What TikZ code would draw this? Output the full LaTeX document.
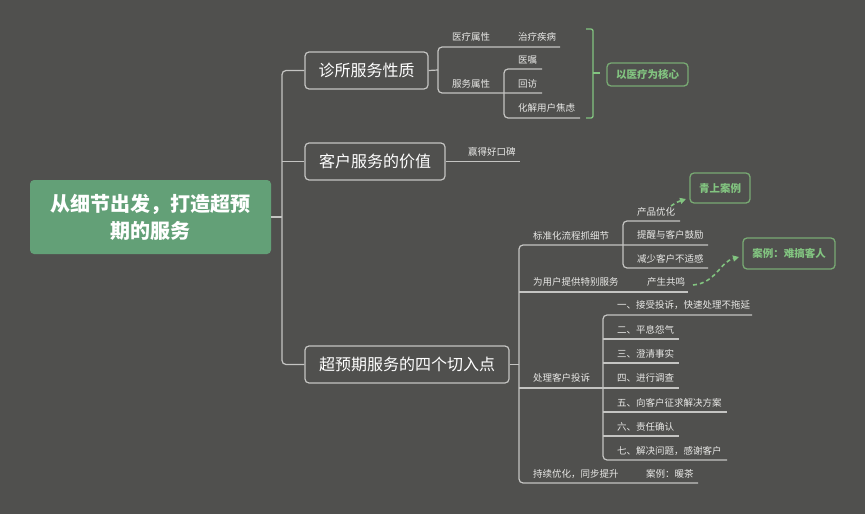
\documentclass[tikz,border=0pt]{standalone}
\usepackage{fontspec}
\setmainfont{Noto Sans CJK SC}
\usetikzlibrary{arrows.meta}
\definecolor{bgc}{RGB}{80,80,78}
\definecolor{linec}{RGB}{196,196,194}
\definecolor{txtc}{RGB}{232,232,230}
\definecolor{rootc}{RGB}{99,160,119}
\definecolor{grn}{RGB}{130,196,128}
\definecolor{grnbox}{RGB}{120,170,115}
\begin{document}
\begin{tikzpicture}[x=1pt,y=-1pt,
  br/.style={draw=linec,line width=1.2pt,rounded corners=4pt},
  mainbox/.style={draw=linec,line width=1.2pt,rounded corners=4pt,text=white,
    font=\fontsize{16}{20}\selectfont,inner sep=0pt},
  rootbox/.style={fill=rootc,rounded corners=4pt,text=white,align=center,
    font=\fontsize{20}{27}\selectfont\bfseries,inner sep=0pt},
  lbl/.style={anchor=west,inner sep=0pt,text=txtc,font=\fontsize{9.5}{11}\selectfont},
  callout/.style={draw=grnbox,line width=1.3pt,rounded corners=4pt,text=grn,
    font=\fontsize{10.5}{12}\selectfont\bfseries,inner sep=0pt},
  darr/.style={draw=grn,line width=1.6pt,dash pattern=on 4pt off 3pt,
    -{Triangle[length=6pt,width=6pt]}},
  brk/.style={draw=grn,line width=1.3pt}
]
\fill[bgc] (0,0) rectangle (865,514);
\useasboundingbox (0,0) rectangle (865,514);

% main nodes
\node[rootbox,minimum width=241pt,minimum height=74pt] (root) at (150.5,217) {从细节出发，打造超预\\期的服务};
\node[mainbox,minimum width=123pt,minimum height=37pt] (n1) at (366.5,70.5) {诊所服务性质};
\node[mainbox,minimum width=140pt,minimum height=37pt] (n2) at (375,161.5) {客户服务的价值};
\node[mainbox,minimum width=204pt,minimum height=37pt] (n3) at (407,364.5) {超预期服务的四个切入点};

% callouts
\node[callout,minimum width=81pt,minimum height=23pt] (k0) at (647.5,74.5) {以医疗为核心};
\node[callout,minimum width=60pt,minimum height=30pt] (k1) at (720,188) {青上案例};
\node[callout,minimum width=92pt,minimum height=31pt] (k2) at (789,253.5) {案例：难搞客人};

% labels
\node[lbl] (t11) at (452,37) {医疗属性};
\node[lbl] (t111) at (518,37) {治疗疾病};
\node[lbl] (t12) at (452,84) {服务属性};
\node[lbl] (t121) at (518,60) {医嘱};
\node[lbl] (t122) at (518,84) {回访};
\node[lbl] (t123) at (518,108) {化解用户焦虑};
\node[lbl] (t21) at (468,152) {赢得好口碑};
\node[lbl] (t31) at (533,236) {标准化流程抓细节};
\node[lbl] (t311) at (637,212) {产品优化};
\node[lbl] (t312) at (637,235) {提醒与客户鼓励};
\node[lbl] (t313) at (637,259) {减少客户不适感};
\node[lbl] (t32) at (533,282) {为用户提供特别服务};
\node[lbl] (t321) at (647,282) {产生共鸣};
\node[lbl] (t33) at (533,378) {处理客户投诉};
\node[lbl] (t331) at (617,305) {一、接受投诉，快速处理不拖延};
\node[lbl] (t332) at (617,330) {二、平息怨气};
\node[lbl] (t333) at (617,354) {三、澄清事实};
\node[lbl] (t334) at (617,378) {四、进行调查};
\node[lbl] (t335) at (617,403) {五、向客户征求解决方案};
\node[lbl] (t336) at (617,427) {六、责任确认};
\node[lbl] (t337) at (617,451) {七、解决问题，感谢客户};
\node[lbl] (t34) at (533,474) {持续优化，同步提升};
\node[lbl] (t341) at (646,474) {案例：暖茶};

% junction coordinates
\coordinate (j0) at (282,217);
\coordinate (j1) at (438,70);
\coordinate (e11) at (560,47);
\coordinate (e12) at (542,93);
\coordinate (j12) at (504,93);
\coordinate (e121) at (542,69);
\coordinate (e123) at (580,118);
\coordinate (e21) at (520,161.5);
\coordinate (j3) at (519,364.5);
\coordinate (e31) at (708,245);
\coordinate (j31) at (623,245);
\coordinate (e311) at (680,221);
\coordinate (e313) at (708,268);
\coordinate (e32) at (688,292);
\coordinate (e34) at (698,483);
\coordinate (j33) at (603,388);
\coordinate (e331) at (752,315);
\coordinate (e332) at (679,339);
\coordinate (e333) at (679,363);
\coordinate (e334) at (679,388);
\coordinate (e335) at (727,412);
\coordinate (e336) at (679,436);
\coordinate (e337) at (727,460);

% root connectors
\draw[br] (root.east) -- (j0);
\draw[br] (n1.west) -| (j0) |- (n3.west);
\draw[br] (n2.west) -- (n2.west -| j0);

% node 1 branch
\draw[br] (n1.east) -- (j1);
\draw[br] (e11) -| (j1) |- (e12);
\draw[br] (e121) -| (j12) |- (e123);

% node 2 branch
\draw[br] (n2.east) -- (e21);

% node 3 branch
\draw[br] (n3.east) -- (j3);
\draw[br] (e31) -| (j3) |- (e34);
\draw[br] (e311) -| (j31) |- (e313);
\draw[br] (j3 |- e32) -- (e32);
\draw[br] (e331) -| (j33) |- (e337);
\draw[br] (j33 |- e332) -- (e332);
\draw[br] (j33 |- e333) -- (e333);
\draw[br] (j3 |- e334) -- (e334);
\draw[br] (j33 |- e335) -- (e335);
\draw[br] (j33 |- e336) -- (e336);

% bracket
\coordinate (b1) at (586,29);
\coordinate (b2) at (586,118);
\coordinate (bm) at (593,73);
\coordinate (bt) at (600,73);
\draw[brk,rounded corners=2pt] (b1) -| (bm) |- (b2);
\draw[brk] (bm) -- (bt);

% relationship arrows
\coordinate (a1s) at (671,206);
\coordinate (a1e) at (686,199);
\draw[darr] (a1s) .. controls (677,202) .. (a1e);
\coordinate (a2s) at (693,285);
\coordinate (a2e) at (739,257);
\draw[darr] (a2s) .. controls (716,283) and (720,262) .. (a2e);
\end{tikzpicture}
\end{document}
